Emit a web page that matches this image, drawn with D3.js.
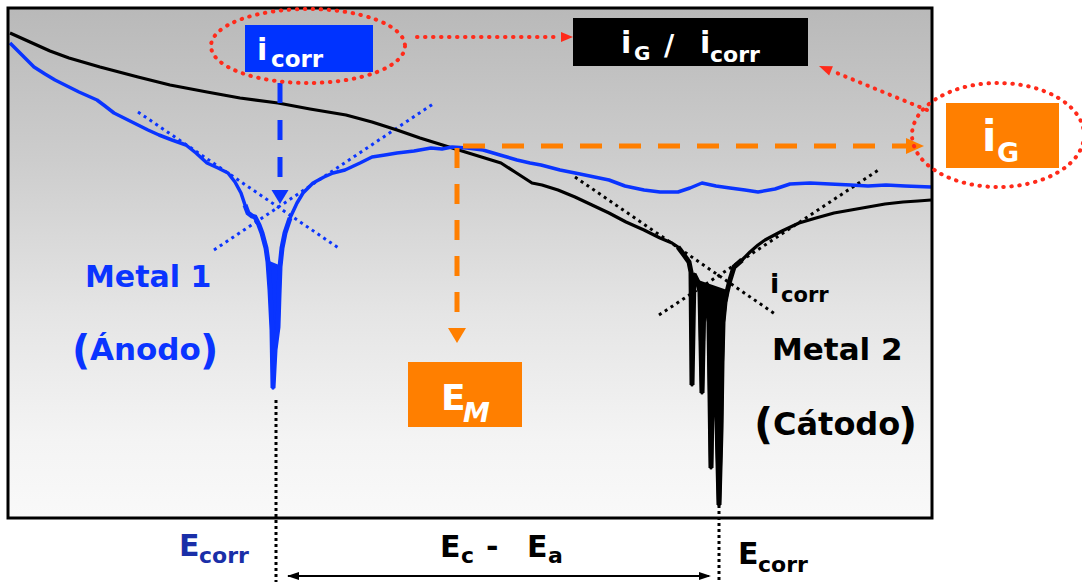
<!DOCTYPE html>
<html>
<head>
<meta charset="utf-8">
<script src="https://cdn.jsdelivr.net/npm/d3@7"></script>
<style>
  body { margin: 0; background: #fff; }
  svg { display: block; font-family: "DejaVu Sans", sans-serif; font-weight: bold; }
</style>
</head>
<body>
<svg id="chart" width="1082" height="582"></svg>
<script>
// potential (a.u.) vs log current (a.u.)
const metal1 = [
  [2,475],[14,463],[26,451],[37,444],[47,438],[59,432],[71,426],[80,422],[89,418],[97,412],
  [106,405],[118,399],[130,393],[140,388],[151,383],[164,378],[178,373],[188,365],[199,355],
  [210,350],[220,345],[227,336],[233,325],[237,313],[240,305],[244,302],[247,301],[251,293],
  [254,285],[258,270],[260,256],[262,228],[264,188],[265,130],[267,168],[270,191],[271,223],
  [272,251],[274,270],[277,285],[282,300],[289,315],[295,325],[305,335],[316,341],[325,345],
  [337,348],[352,355],[364,361],[377,363],[389,365],[406,367],[423,370],[434,369],[444,371],
  [459,370],[475,368],[492,363],[509,358],[522,355],[533,353],[552,348],[572,344],[601,338],
  [617,332],[636,328],[652,326],[670,326],[682,330],[694,335],[708,332],[722,330],[737,328],
  [750,326],[767,329],[782,334],[802,335],[822,334],[843,333],[860,332],[878,333],[897,332],[923,331]
];
const metal2 = [
  [2,485],[22,476],[42,467],[61,460],[92,451],[130,441],[162,433],[199,426],[232,420],[270,415],
  [302,409],[338,403],[364,396],[389,388],[412,380],[441,371],[467,363],[493,355],[507,346],
  [524,335],[534,333],[550,328],[567,321],[584,313],[601,305],[618,296],[636,288],[652,280],
  [664,275],[670,271],[676,263],[681,256],[683,246],[684,133],[686,244],[690,236],[692,226],
  [694,125],[696,224],[699,216],[701,196],[703,50],[705,176],[707,156],[709,96],[711,13],
  [713,88],[714,156],[715,196],[717,216],[719,226],[722,238],[726,251],[734,258],[742,266],
  [750,273],[757,278],[774,287],[791,295],[808,300],[826,305],[843,308],[860,311],[877,314],
  [895,316],[910,317],[923,318]
];
// Tafel tangent lines
const tafel1 = [[[130,406],[332,269]], [[206,268],[425,414]]];
const tafel2 = [[[567,341],[767,204]], [[651,203],[872,349]]];

const eCorr1 = 268, eCorr2 = 711, eMixed = 449, iGalv = 372;

const svg = d3.select("#chart");
const plot = { left: 8, top: 8, right: 932, bottom: 518 };

const x = d3.scaleLinear().domain([0, 924]).range([plot.left, plot.right]);
const y = d3.scaleLinear().domain([0, 510]).range([plot.bottom, plot.top]);

const blue = "#0a34ff", orange = "#ff7f00", red = "#ff2a1a";

// background gradient
const grad = svg.append("defs").append("linearGradient")
  .attr("id", "bg").attr("x1", 0).attr("y1", 0).attr("x2", 0).attr("y2", 1);
[[0, "#b9b9b9"], [0.3, "#cdcdcd"], [0.6, "#e5e5e5"], [0.85, "#f4f4f4"], [1, "#f9f9f9"]]
  .forEach(([o, c]) => grad.append("stop").attr("offset", o).attr("stop-color", c));

svg.append("rect")
  .attr("x", plot.left).attr("y", plot.top)
  .attr("width", plot.right - plot.left).attr("height", plot.bottom - plot.top)
  .attr("fill", "url(#bg)");

const line = d3.line().x(d => x(d[0])).y(d => y(d[1]));

// tangent lines
tafel1.forEach(t => svg.append("path").attr("d", line(t))
  .attr("stroke", blue).attr("stroke-width", 3).attr("stroke-dasharray", "3,4").attr("fill", "none"));
tafel2.forEach(t => svg.append("path").attr("d", line(t))
  .attr("stroke", "#000").attr("stroke-width", 3).attr("stroke-dasharray", "3,4").attr("fill", "none"));

// curves
svg.append("path").attr("d", line(metal2))
  .attr("fill", "none").attr("stroke", "#000").attr("stroke-width", 3.2).attr("stroke-linejoin", "round");
svg.append("path").attr("d", line(metal2.filter(d => d[0] >= 690 && d[0] <= 719)) + "Z")
  .attr("fill", "#000").attr("stroke", "#000").attr("stroke-width", 4);
svg.append("path").attr("d", line(metal2.filter(d => d[0] >= 670 && d[0] <= 734)))
  .attr("fill", "none").attr("stroke", "#000").attr("stroke-width", 5);
svg.append("path").attr("d", line(metal1))
  .attr("fill", "none").attr("stroke", blue).attr("stroke-width", 3.5).attr("stroke-linejoin", "round");
svg.append("path").attr("d", line(metal1.filter(d => d[0] >= 260 && d[0] <= 272)) + "Z")
  .attr("fill", blue).attr("stroke", blue).attr("stroke-width", 3);
svg.append("path").attr("d", line(metal1.filter(d => d[0] >= 237 && d[0] <= 282)))
  .attr("fill", "none").attr("stroke", blue).attr("stroke-width", 5);

// frame
svg.append("rect")
  .attr("x", plot.left).attr("y", plot.top)
  .attr("width", plot.right - plot.left).attr("height", plot.bottom - plot.top)
  .attr("fill", "none").attr("stroke", "#000").attr("stroke-width", 3);

function head(tip, from, len, hw, color) {
  const dx = tip[0] - from[0], dy = tip[1] - from[1];
  const n = Math.hypot(dx, dy), ux = dx / n, uy = dy / n;
  const bx = tip[0] - ux * len, by = tip[1] - uy * len;
  svg.append("path")
    .attr("d", `M${tip[0]},${tip[1]}L${bx - uy * hw},${by + ux * hw}L${bx + uy * hw},${by - ux * hw}Z`)
    .attr("fill", color);
}
function seg(x1, y1, x2, y2, color, w, dash) {
  return svg.append("line").attr("x1", x1).attr("y1", y1).attr("x2", x2).attr("y2", y2)
    .attr("stroke", color).attr("stroke-width", w).attr("stroke-dasharray", dash || null);
}

// mixed potential / galvanic current (orange)
const xm = x(eMixed), yg = y(iGalv);
seg(xm + 6, yg, 906, yg, orange, 5, "22,17");
head([924, yg], [xm, yg], 18, 8, orange);
seg(xm, yg + 2, xm, 328, orange, 5, "20,16");
head([xm, 343], [xm, yg], 15, 9, orange);

// blue icorr arrow
const xa = x(272);
seg(xa, 83, xa, 190, blue, 5, "20,17");
head([xa, 204], [xa, 83], 14, 8.5, blue);

// Ecorr verticals
seg(x(eCorr1), 400, x(eCorr1), 582, "#000", 3, "3,3");
seg(x(eCorr2), 505, x(eCorr2), 582, "#000", 3, "3,3");
seg(x(eCorr1) + 12, 576, x(eCorr2) - 10, 576, "#000", 2);
head([x(eCorr1) + 11, 576], [x(eCorr2), 576], 12, 4, "#000");
head([x(eCorr2) - 8, 576], [x(eCorr1), 576], 12, 4, "#000");

// boxes
const box = (x0, y0, x1, y1, c) => svg.append("rect")
  .attr("x", x0).attr("y", y0).attr("width", x1 - x0).attr("height", y1 - y0).attr("fill", c);
box(245, 25, 373, 72, "#0033ff");
box(573, 18, 808, 66, "#000");
box(946, 103, 1059, 168, orange);
box(408, 362, 522, 427, orange);

// red dotted ellipses + arrows
const redDots = sel => sel.attr("fill", "none").attr("stroke", red).attr("stroke-width", 4)
  .attr("stroke-linecap", "round").attr("stroke-dasharray", "0.5,7.5");
redDots(svg.append("ellipse").attr("cx", 308).attr("cy", 46).attr("rx", 97).attr("ry", 37));
redDots(svg.append("ellipse").attr("cx", 998).attr("cy", 135).attr("rx", 86).attr("ry", 52));
redDots(svg.append("line").attr("x1", 417).attr("y1", 37).attr("x2", 558).attr("y2", 37));
head([573, 37], [417, 37], 12, 5, red);
redDots(svg.append("line").attr("x1", 927).attr("y1", 110).attr("x2", 832).attr("y2", 71));
head([819, 66], [927, 110], 13, 5, red);

function txt(s, px, py, size, color, opts = {}) {
  return svg.append("text").attr("x", px).attr("y", py).attr("font-size", size)
    .attr("fill", color).attr("font-style", opts.italic ? "italic" : null).text(s);
}

// box labels
txt("i", 257, 60, 30, "#fff"); txt("corr", 271, 67, 23, "#fff");
txt("i", 621, 53, 30, "#fff"); txt("G", 634, 60, 20, "#fff");
txt("/", 664, 55, 28, "#fff");
txt("i", 700, 53, 30, "#fff"); txt("corr", 710, 62, 22, "#fff");
txt("i", 982, 151, 42, "#fff"); txt("G", 997, 162, 27, "#fff");
txt("E", 441, 410, 36, "#fff"); txt("M", 463, 422, 27, "#fff", { italic: true });

// curve labels
txt("Metal 1", 85, 287, 30, blue);
txt("(", 72, 364, 40, blue); txt("Ánodo", 90, 360, 31, blue); txt(")", 200, 364, 40, blue);
txt("Metal 2", 772, 360, 31, "#000");
txt("(", 754, 439, 42, "#000"); txt("Cátodo", 773, 435, 32, "#000"); txt(")", 898, 439, 42, "#000");
txt("i", 770, 293, 27, "#000"); txt("corr", 781, 302, 21, "#000");

// potential labels
txt("E", 179, 556, 30, "#1a2fa8"); txt("corr", 199, 563, 22, "#1a2fa8");
txt("E", 738, 564, 30, "#000"); txt("corr", 758, 572, 22, "#000");
txt("E", 440, 557, 30, "#000"); txt("c", 461, 563, 22, "#000");
txt("-", 486, 557, 30, "#000");
txt("E", 527, 557, 30, "#000"); txt("a", 548, 563, 22, "#000");
</script>
</body>
</html>
